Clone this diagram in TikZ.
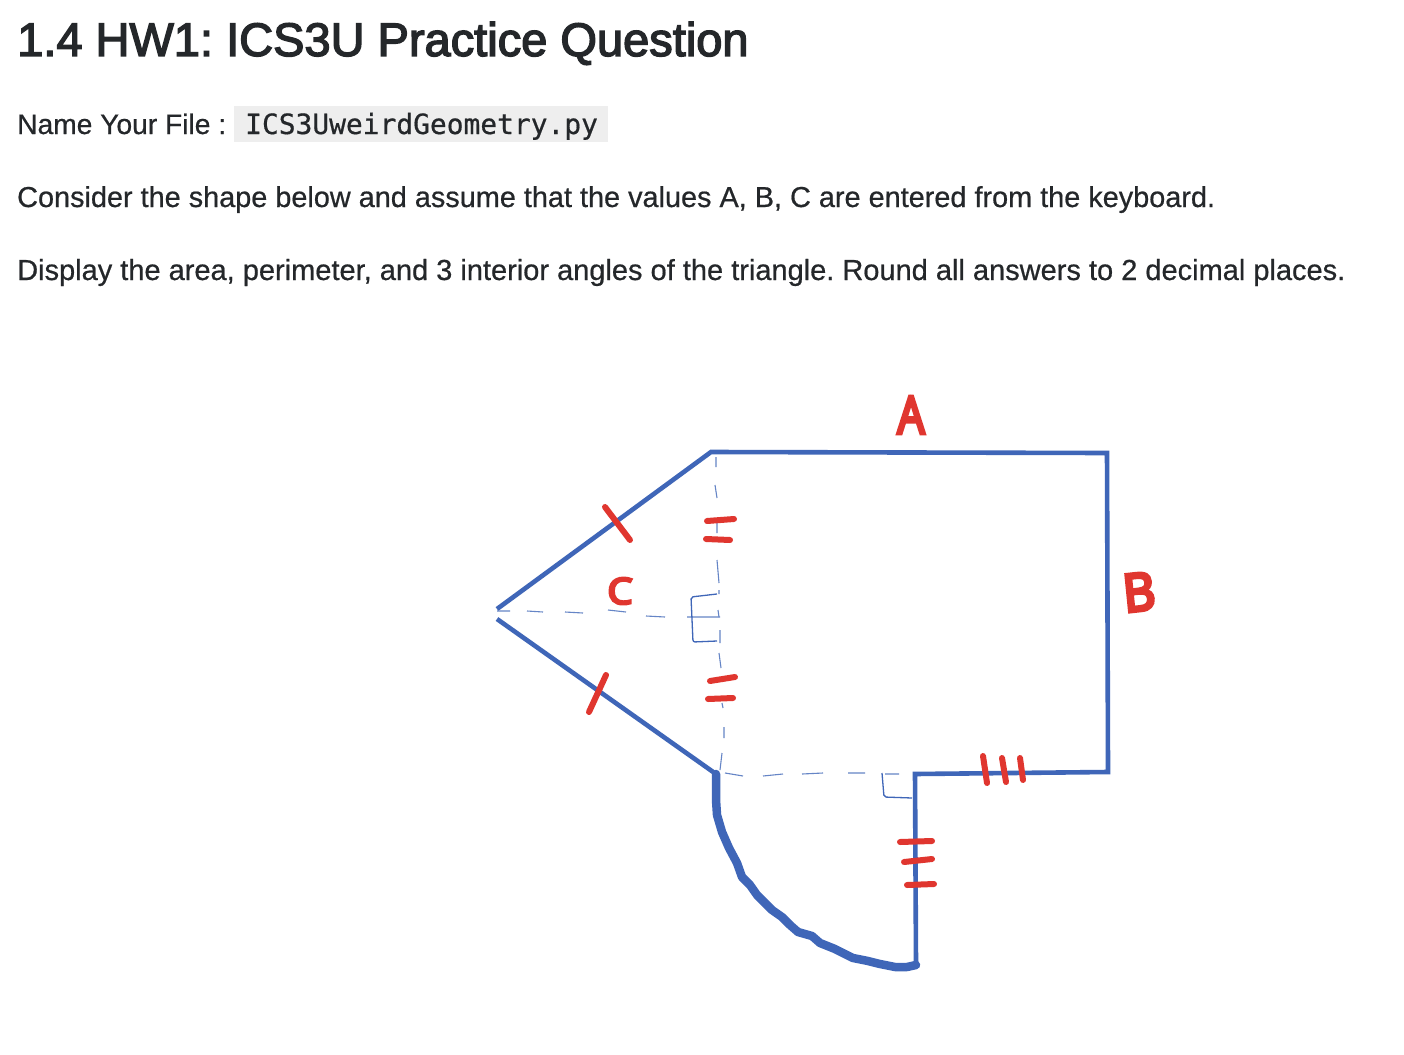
\documentclass[tikz,border=0pt]{standalone}
\usepackage{fontspec}
\setmainfont[FakeBold=0.6]{Liberation Sans}
\newfontfamily\titlefont[FakeBold=3]{Liberation Sans}
\newfontfamily\codefont[FakeBold=0.6]{DejaVu Sans Mono}
\newfontfamily\handfont[FakeBold=7]{Open Sans}
\usepackage{xcolor}
\definecolor{penblue}{HTML}{3F66B8}
\definecolor{penred}{HTML}{E0362F}
\definecolor{inkgrey}{HTML}{24272A}
\definecolor{codegrey}{HTML}{EEEEEE}
\tikzset{
  body/.style={anchor=base west,inner sep=0pt,text=inkgrey,font=\frenchspacing\fontsize{29}{30}\selectfont},
  edgeline/.style={penblue,line width=4.6pt,line join=miter},
  dashline/.style={penblue!80,line width=1.1pt},
  markline/.style={penblue,line width=1.3pt},
  tick/.style={penred,line width=6pt,line cap=round},
  hand/.style={inner sep=0pt,text=penred,transform shape,font=\handfont\fontsize{52}{52}\selectfont}
}
\begin{document}
\begin{tikzpicture}[x=1pt,y=-1pt]
\useasboundingbox (0,0) rectangle (1404,1054);
\fill[white] (0,0) rectangle (1404,1054);
\node[body,font=\titlefont\frenchspacing\fontsize{47}{50}\selectfont] (title) at (17,56) {1.4 HW1: ICS3U Practice Question};
\node[body,font=\fontsize{28.2}{30}\selectfont] (name) at (17,134) {Name Your File :};
\fill[codegrey] (234,106) rectangle (608,142);
\node[body,font=\codefont\fontsize{27.9}{30}\selectfont] (file) at (245,134) {ICS3UweirdGeometry.py};
\node[body,font=\frenchspacing\fontsize{28.85}{30}\selectfont] (consider) at (17,207) {Consider the shape below and assume that the values A, B, C are entered from the keyboard.};
\node[body] (display) at (17,280) {Display the area, perimeter, and 3 interior angles of the triangle. Round all answers to 2 decimal places.};
% outline
\coordinate (apexU) at (497,609);
\coordinate (apexL) at (497,619);
\coordinate (top) at (711,452);
\coordinate (corner) at (1107,453);
\coordinate (right) at (1108,772);
\coordinate (notch) at (915,774);
\coordinate (foot) at (916,965);
\coordinate (low) at (716,774);
\draw[edgeline] (apexU)--(top)--(corner)--(right)--(notch)--(foot);
\draw[edgeline] (apexL)--(low);
\draw[penblue,line width=8.5pt,line join=round,line cap=round] (low)--(716,800)--(717,815)--(722,832)--(729,848)--(737,863)--(742,877)--(750,885)--(757,895)--(765,903)--(772,910)--(782,917)--(790,925)--(798,932)--(812,936)--(820,943)--(835,949)--(853,958)--(868,961)--(880,964)--(895,967)--(907,967)--(foot);
% dashes
\draw[dashline] (497,611)--(510,611) (527,611)--(543,612) (565,612)--(583,613) (608,610)--(626,612) (646,616)--(665,617) (687,617)--(720,617);
\draw[dashline] (716,457)--(716,467) (715,485)--(717,498) (717,523)--(717,533) (717,560)--(719,583) (719,590)--(719,594) (718,610)--(719,617) (720,630)--(720,643) (719,653)--(721,668) (722,703)--(723,708) (724,727)--(724,738) (722,753)--(720,770);
\draw[dashline] (725,773)--(743,776) (763,776)--(783,774) (802,774)--(823,773) (848,773)--(865,773) (885,774)--(899,774);
\draw[markline,rounded corners=2pt] (717,594)--(691,597)--(693,642)--(717,641);
\draw[markline,rounded corners=2pt] (882,773)--(884,797)--(912,798);
% ticks
\draw[tick] (605,507)--(630,540);
\draw[tick] (589,712)--(606,675);
\draw[tick] (707,521)--(734,519);
\draw[tick] (706,539)--(730,540);
\draw[tick] (710,681)--(735,677);
\draw[tick] (708,699)--(733,698);
\draw[tick] (900,842)--(932,841);
\draw[tick] (904,862)--(932,859);
\draw[tick] (907,885)--(934,884);
\draw[tick] (983,756)--(987,783);
\draw[tick] (1002,758)--(1006,782);
\draw[tick] (1020,758)--(1023,780);
% labels
\node[hand,xscale=.82] (labA) at (911,415) {A};
\node[hand,xscale=.95,rotate=6] (labB) at (1139,592) {B};
\node[hand,xscale=1.1,font=\handfont\fontsize{36}{36}\selectfont] (labC) at (620,591) {C};
\end{tikzpicture}
\end{document}
